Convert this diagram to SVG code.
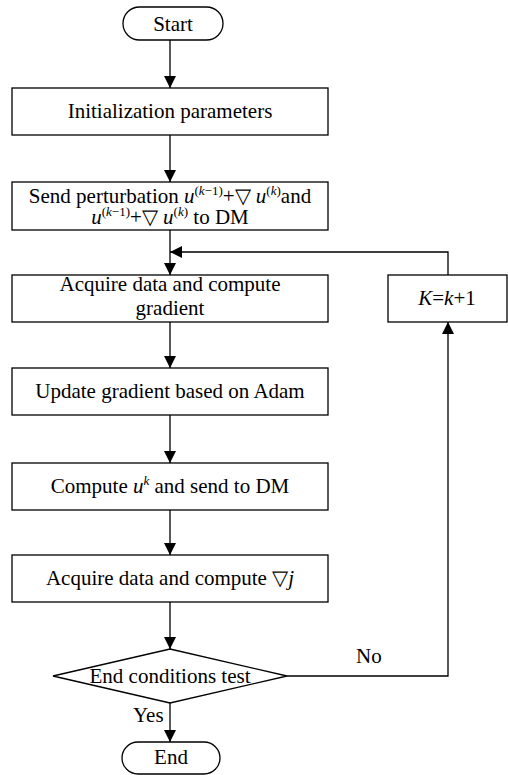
<svg xmlns="http://www.w3.org/2000/svg" width="508" height="775" viewBox="0 0 508 775">
<defs>
<style>
.n{fill:#fff;stroke:#000;stroke-width:1.3}
.c{fill:none;stroke:#000;stroke-width:1.3}
.i{font-style:italic}
.s{font-size:13px}
</style>
<marker id="a" markerWidth="12" markerHeight="12" refX="12" refY="6" orient="auto" markerUnits="userSpaceOnUse">
<path d="M0,0 L12,6 L0,12 z" fill="#000"/>
</marker>
</defs>
<rect width="508" height="775" fill="#fff"/>
<g id="connectors">
<path class="c" d="M170,40 V88" marker-end="url(#a)"/>
<path class="c" d="M170,135 V182" marker-end="url(#a)"/>
<path class="c" d="M170,230 V275" marker-end="url(#a)"/>
<path class="c" d="M170,322 V368" marker-end="url(#a)"/>
<path class="c" d="M170,415 V463" marker-end="url(#a)"/>
<path class="c" d="M170,510 V555" marker-end="url(#a)"/>
<path class="c" d="M170,602 V649" marker-end="url(#a)"/>
<path class="c" d="M170,703 V742" marker-end="url(#a)"/>
<path class="c" d="M287,676 H448 V322" marker-end="url(#a)"/>
<path class="c" d="M448,275 V252 H170" marker-end="url(#a)"/>
<text x="133" y="722" style="font-family:'Liberation Serif',serif;font-size:21px">Yes</text>
<text x="356" y="663" style="font-family:'Liberation Serif',serif;font-size:21px">No</text>
</g>
<g id="start">
<rect class="n" x="123" y="7" width="100" height="33" rx="16.5"/>
<text x="173" y="31" text-anchor="middle" style="font-family:'Liberation Serif',serif;font-size:21px">Start</text>
</g>
<g id="init">
<rect class="n" x="12" y="88" width="316" height="47"/>
<text x="170" y="118" text-anchor="middle" style="font-family:'Liberation Serif',serif;font-size:21px">Initialization parameters</text>
</g>
<g id="send">
<rect class="n" x="12" y="182" width="316" height="48"/>
<text x="170" y="203" text-anchor="middle" style="font-family:'Liberation Serif',serif;font-size:21px">Send perturbation <tspan class="i">u</tspan><tspan class="s" dy="-8">(<tspan class="i">k</tspan>−1)</tspan><tspan dy="8">+▽ </tspan><tspan class="i">u</tspan><tspan class="s" dy="-8">(<tspan class="i">k</tspan>)</tspan><tspan dy="8">and</tspan></text>
<text x="170" y="224" text-anchor="middle" style="font-family:'Liberation Serif',serif;font-size:21px"><tspan class="i">u</tspan><tspan class="s" dy="-8">(<tspan class="i">k</tspan>−1)</tspan><tspan dy="8">+▽ </tspan><tspan class="i">u</tspan><tspan class="s" dy="-8">(<tspan class="i">k</tspan>)</tspan><tspan dy="8"> to DM</tspan></text>
</g>
<g id="acquire">
<rect class="n" x="12" y="275" width="316" height="47"/>
<text x="170" y="291" text-anchor="middle" style="font-family:'Liberation Serif',serif;font-size:21px">Acquire data and compute</text>
<text x="170" y="315" text-anchor="middle" style="font-family:'Liberation Serif',serif;font-size:21px">gradient</text>
</g>
<g id="update">
<rect class="n" x="12" y="368" width="316" height="47"/>
<text x="170" y="398" text-anchor="middle" style="font-family:'Liberation Serif',serif;font-size:21px">Update gradient based on Adam</text>
</g>
<g id="compute">
<rect class="n" x="12" y="463" width="316" height="47"/>
<text x="170" y="493" text-anchor="middle" style="font-family:'Liberation Serif',serif;font-size:21px">Compute <tspan class="i">u</tspan><tspan class="s i" dy="-8">k</tspan><tspan dy="8"> and send to DM</tspan></text>
</g>
<g id="acquire-j">
<rect class="n" x="12" y="555" width="316" height="47"/>
<text x="170" y="585" text-anchor="middle" style="font-family:'Liberation Serif',serif;font-size:21px">Acquire data and compute ▽<tspan class="i">j</tspan></text>
</g>
<g id="decision">
<polygon class="n" points="170,649 287,676 170,703 53,676"/>
<text x="170" y="683" text-anchor="middle" style="font-family:'Liberation Serif',serif;font-size:21px">End conditions test</text>
</g>
<g id="increment">
<rect class="n" x="388" y="275" width="119" height="47"/>
<text x="447" y="305" text-anchor="middle" style="font-family:'Liberation Serif',serif;font-size:21px"><tspan class="i">K</tspan>=<tspan class="i">k</tspan>+1</text>
</g>
<g id="end">
<rect class="n" x="122" y="742" width="98" height="32" rx="16"/>
<text x="171" y="764" text-anchor="middle" style="font-family:'Liberation Serif',serif;font-size:21px">End</text>
</g>
</svg>
